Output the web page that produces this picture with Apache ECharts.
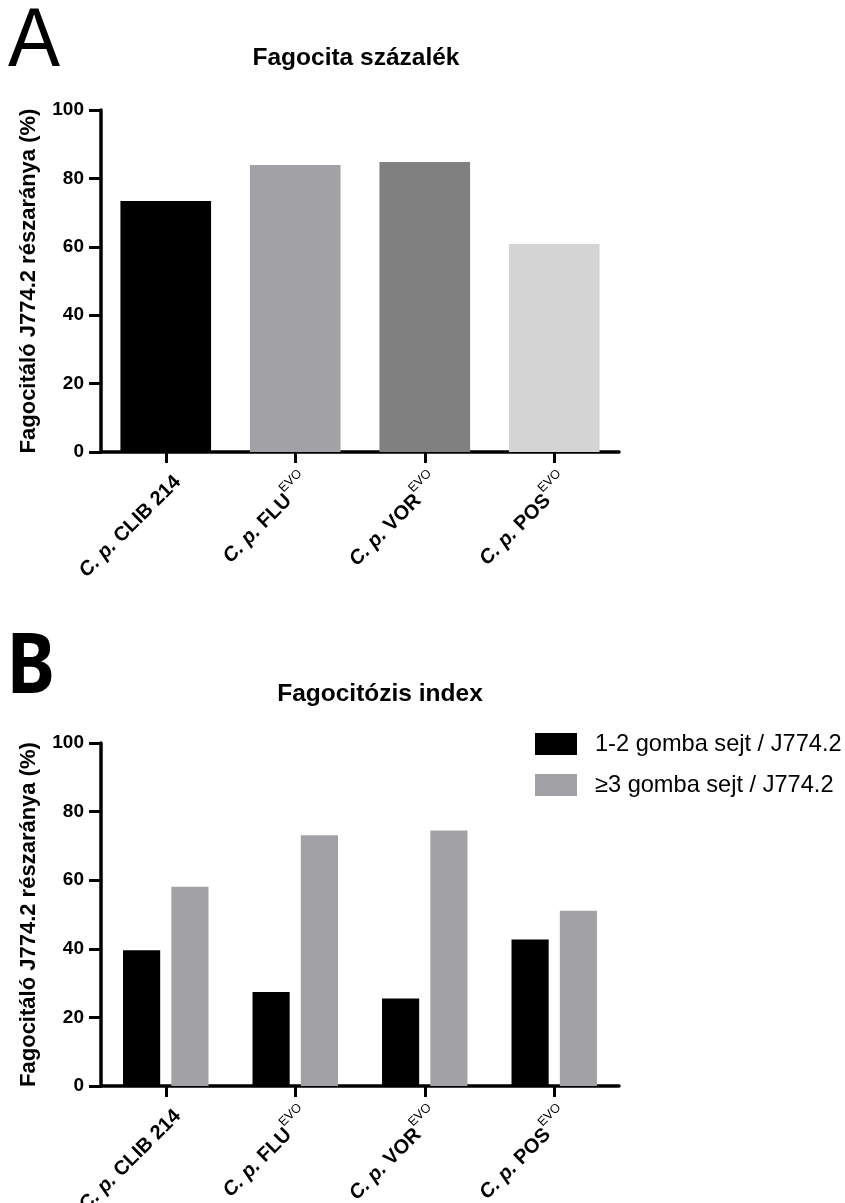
<!DOCTYPE html>
<html><head><meta charset="utf-8">
<script src="https://cdn.jsdelivr.net/npm/echarts@6/dist/echarts.min.js"></script>
<style>html,body{margin:0;padding:0;background:#fff}#c{width:845px;height:1203px}</style>
</head><body><div id="c"></div>
<script>
// ---- data ----
const categories = ['CLIB 214', 'FLU', 'VOR', 'POS'];
const superscripts = ['', 'EVO', 'EVO', 'EVO'];
const phagocytePercent = [73.4, 83.9, 84.8, 60.8];
const seriesNamesB = ['1-2 gomba sejt / J774.2', '≥3 gomba sejt / J774.2'];
const oneToTwoCells = [39.6, 27.4, 25.5, 42.7];
const threeOrMoreCells = [58.1, 73.1, 74.5, 51.1];
const yMin = 0, yMax = 100, yStep = 20;
const titleA = 'Fagocita százalék';
const titleB = 'Fagocitózis index';
const yAxisName = 'Fagocitáló J774.2 részaránya (%)';
const panelLabels = ['A', 'B'];

// ---- styling ----
const FONT = '"Liberation Sans", Arial, Helvetica, sans-serif';
const colorsA = ['#000000', '#a2a1a6', '#808080', '#d4d4d4'];
const colorsB = ['#000000', '#a2a1a6'];

const rich = {
  i: {fontFamily: FONT, fontSize: 20, fontWeight: 'bold', fontStyle: 'italic', color: '#000', lineHeight: 27, verticalAlign: 'bottom'},
  b: {fontFamily: FONT, fontSize: 20, fontWeight: 'bold', color: '#000', lineHeight: 27, verticalAlign: 'bottom'},
  s: {fontFamily: FONT, fontSize: 12.5, fontWeight: 'normal', color: '#000', lineHeight: 27, verticalAlign: 'top'}
};

function xAxis(gi) {
  return {
    type: 'category', gridIndex: gi, data: categories,
    axisLine: {show: true, lineStyle: {color: '#000', width: 3.5}},
    axisTick: {show: true, alignWithLabel: true, length: 11, lineStyle: {color: '#000', width: 3}},
    axisLabel: {
      interval: 0, rotate: 45, margin: 15, verticalAlign: 'top', hideOverlap: false,
      formatter: (v, i) => '{i|C. p.}{b| ' + v + '}' + (superscripts[i] ? '{s|' + superscripts[i] + '}' : ''),
      rich: rich
    },
    splitLine: {show: false}
  };
}
function yAxis(gi) {
  return {
    type: 'value', gridIndex: gi, min: yMin, max: yMax, interval: yStep,
    name: yAxisName, nameLocation: 'middle', nameGap: 61,
    nameTextStyle: {fontFamily: FONT, fontSize: 22, fontWeight: 'bold', color: '#000'},
    axisLine: {show: true, lineStyle: {color: '#000', width: 3.5}},
    axisTick: {show: true, length: 12, lineStyle: {color: '#000', width: 3}},
    axisLabel: {fontFamily: FONT, fontSize: 19, fontWeight: 'bold', color: '#000', margin: 17},
    splitLine: {show: false}
  };
}

const option = {
  animation: false,
  backgroundColor: '#fff',
  title: [
    {text: titleA, left: 356, top: 46, textAlign: 'center', padding: 0,
     textStyle: {fontFamily: FONT, fontSize: 24.5, fontWeight: 'bold', color: '#000'}},
    {text: titleB, left: 380, top: 682, textAlign: 'center', padding: 0,
     textStyle: {fontFamily: FONT, fontSize: 24.5, fontWeight: 'bold', color: '#000'}}
  ],
  legend: {
    data: seriesNamesB, orient: 'vertical', left: 535, top: 732,
    itemWidth: 42, itemHeight: 22, itemGap: 17, padding: 0,
    icon: 'rect', selectedMode: false,
    textStyle: {fontFamily: FONT, fontSize: 23.6, color: '#000', padding: [0, 0, 0, 13]}
  },
  grid: [
    {left: 101, width: 518, top: 110, height: 342, containLabel: false, outerBoundsMode: 'none'},
    {left: 101, width: 518, top: 743, height: 343, containLabel: false, outerBoundsMode: 'none'}
  ],
  xAxis: [xAxis(0), xAxis(1)],
  yAxis: [yAxis(0), yAxis(1)],
  graphic: [
    {type: 'text', x: 8, y: 2, scaleX: 0.94, style: {text: panelLabels[0], x: 0, y: 0, verticalAlign: 'top', font: 'normal 83px ' + FONT, fill: '#000'}},
    {type: 'text', x: 6.4, y: 627, scaleX: 0.87, style: {text: panelLabels[1], x: 0, y: 0, verticalAlign: 'top', font: 'bold 84px "Noto Sans", "Open Sans", sans-serif', fill: '#000'}}
  ],
  series: [
    {type: 'bar', name: 'A', xAxisIndex: 0, yAxisIndex: 0, barCategoryGap: '30%',
     data: phagocytePercent.map((v, i) => ({value: v, itemStyle: {color: colorsA[i]}}))},
    {type: 'bar', name: seriesNamesB[0], xAxisIndex: 1, yAxisIndex: 1, barGap: '30%', barCategoryGap: '34%',
     itemStyle: {color: colorsB[0]}, data: oneToTwoCells},
    {type: 'bar', name: seriesNamesB[1], xAxisIndex: 1, yAxisIndex: 1, barGap: '30%', barCategoryGap: '34%',
     itemStyle: {color: colorsB[1]}, data: threeOrMoreCells}
  ]
};
const chart = echarts.init(document.getElementById('c'), null, {renderer: 'canvas'});
chart.setOption(option);
</script></body></html>
